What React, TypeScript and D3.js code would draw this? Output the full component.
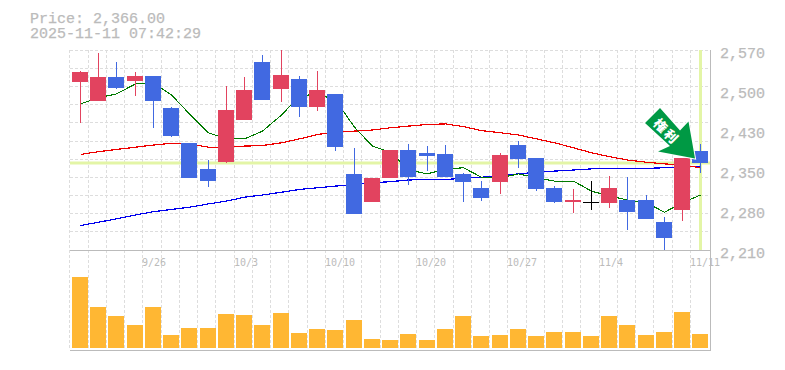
import React from "react";
import * as d3 from "d3";

const priceText = "Price: 2,366.00";
const stampText = "2025-11-11 07:42:29";
const markerText = "権利";
const lastPrice = 2366;

const open = [2512,2478,2521,2514,2523,2466,2403,2356,2368,2444,2548,2500,2518,2467,2491,2347,2296,2340,2390,2385,2383,2347,2322,2332,2399,2376,2322,2296,2296,2295,2300,2300,2260,2282,2388];
const close = [2530,2521,2502,2523,2478,2415,2340,2334,2462,2498,2480,2525,2467,2498,2395,2275,2340,2390,2341,2379,2341,2332,2304,2381,2374,2320,2296,2300,2296,2322,2278,2266,2232,2376,2366];
const high = [2532,2565,2548,2530,2523,2467,2403,2372,2505,2521,2561,2570,2523,2532,2491,2394,2340,2390,2401,2397,2399,2349,2334,2385,2406,2376,2325,2320,2334,2343,2341,2309,2269,2376,2401];
const low = [2439,2478,2500,2487,2430,2413,2340,2323,2367,2444,2480,2476,2449,2460,2388,2275,2296,2340,2327,2352,2341,2296,2298,2311,2358,2316,2295,2277,2282,2286,2246,2266,2210,2262,2349];

const maShort = [2473,2484,2491,2509,2511,2489,2455,2421,2410,2410,2424,2453,2487,2491,2480,2431,2397,2386,2354,2347,2356,2358,2341,2340,2347,2340,2334,2334,2316,2307,2300,2295,2278,2295,2309];
const maMid = [2382,2387,2391,2395,2399,2402,2401,2395,2395,2397,2398,2403,2410,2418,2422,2424,2426,2430,2433,2436,2437,2432,2425,2421,2417,2410,2403,2394,2385,2378,2372,2368,2365,2363,2358];
const maLong = [2254,2260,2266,2273,2279,2283,2287,2293,2298,2305,2309,2314,2319,2322,2325,2328,2331,2333,2336,2337,2337,2339,2341,2344,2347,2350,2352,2354,2356,2357,2357,2357,2358,2360,2361];

const volume = [71,41,32,23,41,13,20,20,34,33,23,35,15,19,18,28,9,8,14,8,19,32,12,13,19,12,16,16,12,32,23,13,16,36,14];

const priceLabels = ["2,570", "2,500", "2,430", "2,350", "2,280", "2,210"];
const dateLabels: [number, string][] = [[4,"9/26"],[9,"10/3"],[14,"10/10"],[19,"10/20"],[24,"10/27"],[29,"11/4"],[34,"11/11"]];

const RED = "#e2435f";
const BLUE = "#4169e1";
const GRID = "#dddddd";
const FRAME = "#bbbbbb";
const LABEL = "#bbbbbb";
const HILITE = "#e3f5a6";
const MONO = "'Liberation Mono', 'DejaVu Sans Mono', monospace";
const MONO_SMALL = "'DejaVu Sans Mono', monospace";

const n = open.length;
const L = 70, R = 710, T = 50, B = 250, VB = 350, VBASE = 348;
const slot = d3.scaleLinear().domain([0, n]).range([L, L + 18.25 * n]);
const y = d3.scaleLinear().domain([2210, 2570]).range([B, T]);
const yv = d3.scaleLinear().domain([0, 98]).range([VBASE, B]);
const labelY = d3.scalePoint<string>().domain(priceLabels).range([T + 8, B + 8]);
const gridPrice = d3.range(12).map((k) => 2570 - (360 / 11) * k);

const gridX = (i: number) => Math.floor(slot(i) - 0.1);
const bodyX = (i: number) => Math.round(slot(i) - 0.1 + 2);
const centerX = (i: number) => bodyX(i) + 8;

const lineOf = d3
  .line<number>()
  .x((_, i) => centerX(i) + 0.5)
  .y((v) => y(v));

const arrow: [number, number][] = [[660,108],[645,123],[670,146],[658,151.5],[695,158.5],[688.5,121.5],[680,130.5]];

export default function App() {
  return (
    <svg width={785} height={370} style={{ position: "absolute", left: 0, top: 0, background: "#fff" }}>
      <text x={30} y={23} fontFamily={MONO} fontSize={15} stroke={LABEL} strokeWidth={0.25} fill={LABEL}>{priceText}</text>
      <text x={30} y={38} fontFamily={MONO} fontSize={15} stroke={LABEL} strokeWidth={0.25} fill={LABEL}>{stampText}</text>

      <g stroke={GRID} strokeDasharray="3 2" shapeRendering="crispEdges">
        {gridPrice.slice(0, -1).map((p, k) => {
          const gy = Math.floor(y(p) + 0.1) + 0.5;
          return <line key={k} x1={L} x2={R} y1={gy} y2={gy} />;
        })}
        {d3.range(n).map((i) => (
          <line key={i} x1={gridX(i) + 0.5} x2={gridX(i) + 0.5} y1={T} y2={VB} />
        ))}
      </g>

      <rect x={L} y={Math.round(y(lastPrice)) - 1.5} width={R - L} height={3} fill={HILITE} />
      <rect x={699} y={T} width={3} height={B - T} fill={HILITE} />

      <g fill="none" shapeRendering="crispEdges">
        <path d={lineOf(maLong) ?? ""} stroke="#0000ee" strokeWidth={1.2} />
        <path d={lineOf(maMid) ?? ""} stroke="#ee0000" strokeWidth={1.2} />
        <path d={lineOf(maShort) ?? ""} stroke="#007a00" strokeWidth={1.1} />
      </g>

      <g shapeRendering="crispEdges">
        {d3.range(n).map((i) => {
          const color = close[i] > open[i] ? RED : close[i] < open[i] ? BLUE : "#000";
          const top = Math.round(y(Math.max(open[i], close[i])));
          const bot = Math.round(y(Math.min(open[i], close[i])));
          const wt = Math.round(y(high[i]));
          const wb = Math.round(y(low[i]));
          return (
            <g key={i} fill={color}>
              <rect x={centerX(i)} y={wt} width={1} height={Math.max(1, wb - wt)} />
              <rect x={bodyX(i)} y={top} width={16} height={Math.max(1, bot - top)} />
            </g>
          );
        })}
      </g>

      <g shapeRendering="crispEdges">
        {volume.map((v, i) => (
          <rect key={i} x={bodyX(i)} y={Math.round(yv(v))} width={16} height={VBASE - Math.round(yv(v))} fill="#ffb733" />
        ))}
      </g>

      <g stroke={FRAME} shapeRendering="crispEdges">
        <line x1={L} x2={R + 1} y1={B + 0.5} y2={B + 0.5} />
        <line x1={L} x2={R + 1} y1={VB + 0.5} y2={VB + 0.5} />
        <line x1={R + 0.5} x2={R + 0.5} y1={T} y2={VB} />
      </g>

      <polygon points={arrow.map((p) => p.join(",")).join(" ")} fill="#009944" stroke="#ffffff" strokeWidth={2} strokeLinejoin="miter" paintOrder="stroke" />
      <text
        transform="translate(667,131) rotate(45)"
        textAnchor="middle"
        dominantBaseline="central"
        fontFamily="'Noto Sans CJK JP'"
        fontWeight={900}
        fontSize={13}
        letterSpacing={2}
        fill="#ffffff"
      >
        {markerText}
      </text>

      {priceLabels.map((t) => (
        <text key={t} x={720} y={labelY(t)} fontFamily={MONO} fontSize={15} stroke={LABEL} strokeWidth={0.25} fill={LABEL}>{t}</text>
      ))}
      {dateLabels.map(([i, t]) => (
        <text key={t} x={gridX(i)} y={266} fontFamily={MONO_SMALL} fontSize={10} fill={LABEL}>{t}</text>
      ))}
    </svg>
  );
}
